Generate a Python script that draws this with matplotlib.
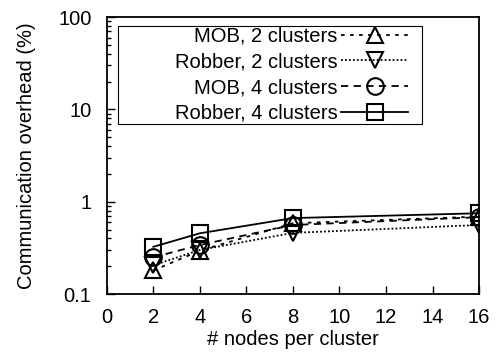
import matplotlib
matplotlib.use("Agg")
import matplotlib.pyplot as plt
from matplotlib.patches import Rectangle
from matplotlib.ticker import FixedLocator, LogLocator, NullFormatter

plt.rcParams["font.family"] = ["Liberation Sans", "DejaVu Sans"]
plt.rcParams["font.size"] = 14.5

nodes = [2, 4, 8, 16]
mob2 = [0.18, 0.295, 0.585, 0.69]
robber2 = [0.205, 0.30, 0.46, 0.56]
mob4 = [0.25, 0.34, 0.56, 0.68]
robber4 = [0.325, 0.455, 0.665, 0.75]

labels = ["MOB, 2 clusters", "Robber, 2 clusters", "MOB, 4 clusters", "Robber, 4 clusters"]
series = [mob2, robber2, mob4, robber4]
markers = ["^", "v", "o", "s"]
styles = [(0, (2, 3)), (0, (1, 1.2)), (0, (4, 3)), "-"]

fig = plt.figure(figsize=(4.99, 3.56), dpi=100)
ax = fig.add_axes([0.214, 0.174, 0.746, 0.778])

for ys, lab, mk, ls in zip(series, labels, markers, styles):
    ax.plot(nodes, ys, color="black", ls=ls, lw=1.3, marker=mk, ms=12,
            mfc="none", mec="black", mew=1.5, label=lab)

ax.set_yscale("log")
ax.set_ylim(0.1, 100)
ax.set_xlim(0, 16)
ax.xaxis.set_major_locator(FixedLocator(range(0, 17, 2)))
ax.yaxis.set_major_locator(FixedLocator([0.1, 1, 10, 100]))
ax.set_yticklabels(["0.1", "1", "10", "100"])
ax.yaxis.set_minor_locator(LogLocator(base=10, subs=range(2, 10)))
ax.yaxis.set_minor_formatter(NullFormatter())
ax.tick_params(direction="in", which="both", top=False, right=False, width=1)
ax.tick_params(which="major", length=6)
ax.tick_params(axis="y", which="major", pad=11)
ax.tick_params(axis="x", which="major", pad=10)
ax.tick_params(which="minor", length=3)
for sp in ax.spines.values():
    sp.set_linewidth(1.3)

ax.set_xlabel("# nodes per cluster", labelpad=2)
ax.set_ylabel("Communication overhead (%)", labelpad=16)

# gnuplot-style key: wide box, entries pushed to the right
box = Rectangle((0.03, 0.614), 0.817, 0.354, transform=ax.transAxes,
                fill=True, fc="white", ec="black", lw=0.8, zorder=4)
ax.add_patch(box)
leg = ax.legend(loc="upper right", bbox_to_anchor=(0.809, 0.965), markerfirst=False,
                frameon=False, handlelength=3.3, labelspacing=0.33, borderpad=0,
                handletextpad=0.2, borderaxespad=0)
leg.set_zorder(5)

fig.savefig("out.png", dpi=100)
